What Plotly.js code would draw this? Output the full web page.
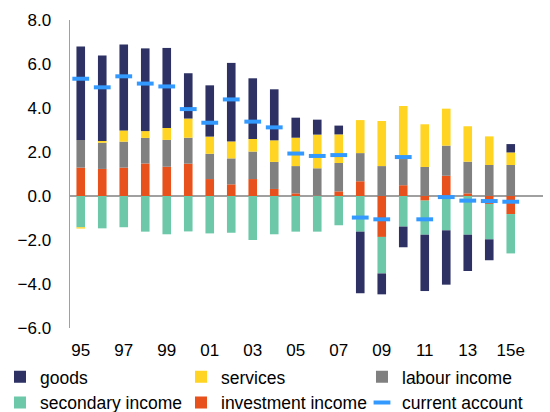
<!DOCTYPE html>
<html>
<head>
<meta charset="utf-8">
<script src="https://cdn.plot.ly/plotly-3.0.1.min.js"></script>
<style>html,body{margin:0;padding:0;background:#fff;}#chart{width:550px;height:412px;}</style>
</head>
<body>
<div id="chart"></div>
<script>
var years = ['95','96','97','98','99','00','01','02','03','04','05','06','07','08','09','10','11','12','13','14','15e'];
var tickYears = ['95','97','99','01','03','05','07','09','11','13','15e'];

var goods = [4.24,3.89,3.91,3.76,3.64,2.06,2.33,3.57,2.76,2.32,0.91,0.68,0.40,-2.80,-0.95,-0.94,-2.56,-2.47,-1.65,-0.95,0.38];
var services = [-0.06,0.08,0.51,0.31,0.54,0.87,0.78,0.77,0.57,0.98,1.29,1.53,1.30,1.50,2.05,2.41,1.94,1.68,1.61,1.30,0.57];
var labourIncome = [1.26,1.19,1.18,1.16,1.22,1.18,1.15,1.18,1.25,1.23,1.24,1.24,1.29,1.28,1.36,1.19,1.32,1.37,1.44,1.41,1.41];
var secondaryIncome = [-1.42,-1.47,-1.42,-1.62,-1.74,-1.61,-1.70,-1.67,-2.00,-1.74,-1.62,-1.62,-1.33,-1.62,-1.66,-1.39,-1.55,-1.56,-1.76,-1.61,-1.79];
var investmentIncome = [1.29,1.23,1.29,1.48,1.33,1.47,0.77,0.53,0.77,0.32,0.12,0.02,0.21,0.67,-1.86,0.49,-0.21,0.92,0.12,-0.36,-0.82];
var currentAccount = [5.33,4.94,5.44,5.11,4.98,3.95,3.33,4.39,3.38,3.12,1.93,1.82,1.86,-0.98,-1.06,1.77,-1.06,-0.05,-0.21,-0.23,-0.26];

var colors = {
  goods: '#2d3163',
  services: '#ffd422',
  labour: '#808080',
  secondary: '#6dc8a9',
  investment: '#e8511c',
  ca: '#3399ff'
};

function bar(name, y, color, rank) {
  return {type: 'bar', name: name, x: years, y: y, legendrank: rank,
    marker: {color: color, line: {width: 0}}, hoverinfo: 'name+y'};
}

var traces = [
  bar('investment income', investmentIncome, colors.investment, 5),
  bar('labour income', labourIncome, colors.labour, 3),
  bar('secondary income', secondaryIncome, colors.secondary, 4),
  bar('services', services, colors.services, 2),
  bar('goods', goods, colors.goods, 1),
  {type: 'scatter', mode: 'markers', name: 'current account', x: years, y: currentAccount,
   legendrank: 6,
   marker: {symbol: 'line-ew', size: 12, color: colors.ca, line: {color: colors.ca, width: 4}}}
];

var font = {family: 'Liberation Sans, Arial, sans-serif', size: 17, color: '#000'};

var layout = {
  width: 550, height: 412,
  margin: {l: 70, r: 7, t: 20, b: 84, autoexpand: false},
  paper_bgcolor: '#fff', plot_bgcolor: '#fff',
  barmode: 'relative', bargap: 0.6,
  font: font,
  showlegend: true,
  legend: {orientation: 'h', x: -0.148, xanchor: 'left', y: -0.1, yanchor: 'top',
    entrywidth: 136, entrywidthmode: 'pixels', traceorder: 'normal',
    font: {family: 'Liberation Sans, Arial, sans-serif', size: 17.5, color: '#000'},
    bgcolor: 'rgba(0,0,0,0)'},
  xaxis: {type: 'category', categoryorder: 'array', categoryarray: years,
    range: [-0.5, 21.5], tickmode: 'array', tickvals: tickYears, ticktext: tickYears,
    showline: false, showgrid: false, zeroline: false, ticks: '',
    ticklabelstandoff: 10, tickfont: font, fixedrange: true},
  yaxis: {range: [-6, 8], dtick: 2, tick0: 0, tickformat: '.1f',
    showline: true, linecolor: '#a0a0a0', linewidth: 1.5,
    showgrid: false, zeroline: true, zerolinecolor: '#a0a0a0', zerolinewidth: 1.5,
    ticks: '', ticklabelstandoff: 14, tickfont: font, fixedrange: true}
};

Plotly.newPlot('chart', traces, layout, {displayModeBar: false, staticPlot: true});
</script>
</body>
</html>
